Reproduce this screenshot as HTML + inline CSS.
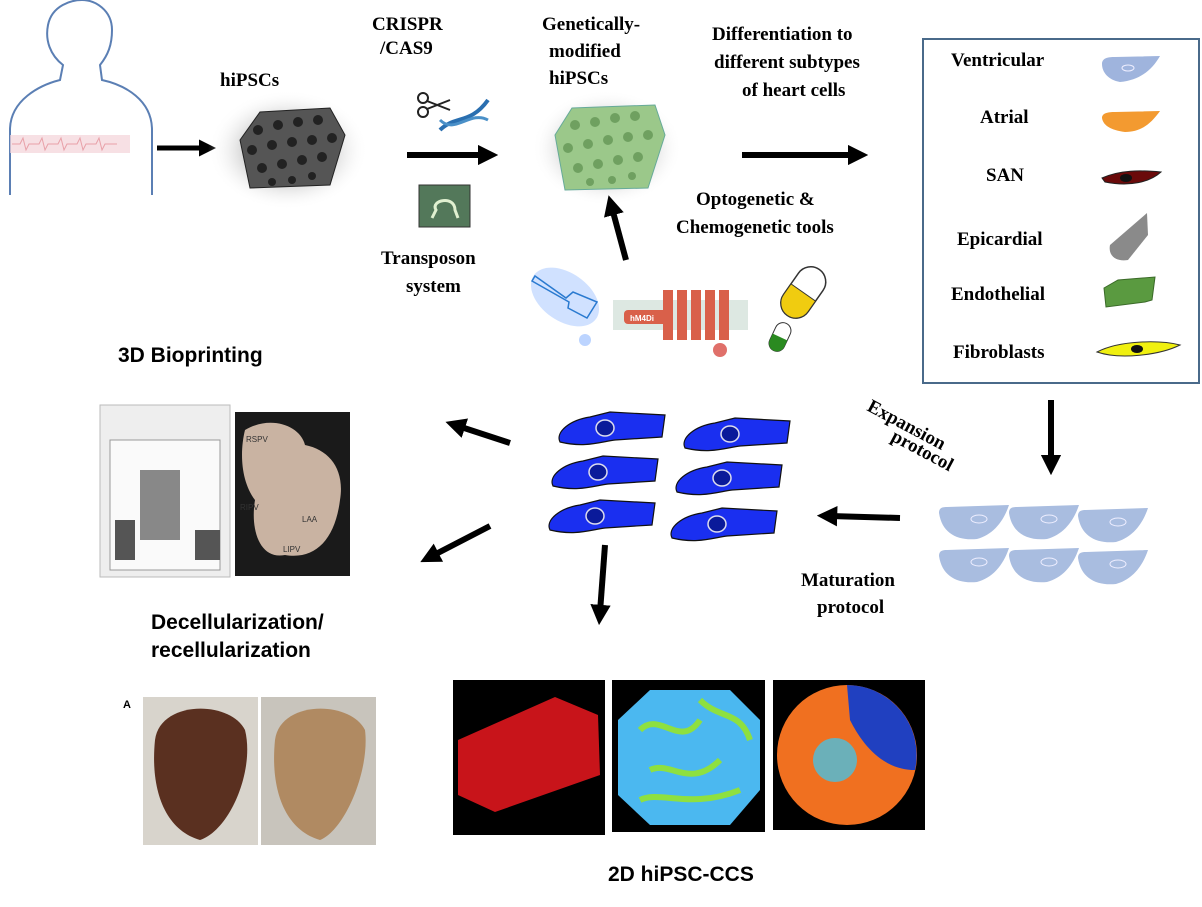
<!DOCTYPE html>
<html><head><meta charset="utf-8"><style>
body{margin:0;background:#fff}
svg{display:block}
.t{font-family:"Liberation Serif",serif;font-weight:bold;font-size:19px;fill:#000}
.s{font-family:"Liberation Sans",sans-serif;font-weight:bold;font-size:21px;fill:#000}
</style></head><body>
<svg width="1202" height="907" viewBox="0 0 1202 907" xmlns="http://www.w3.org/2000/svg">
<defs>
<marker id="ah" markerWidth="3.4" markerHeight="3.4" refX="1.2" refY="1.7" orient="auto" markerUnits="strokeWidth"><path d="M0,0 L3.4,1.7 L0,3.4 Z" fill="#000"/></marker>
<g id="bc"><path d="M5,30 C0,20 15,8 35,5 L55,0 L110,3 L107,25 L60,28 C45,30 30,36 5,30 Z" fill="#1a2ff0" stroke="#111" stroke-width="1.2"/><ellipse cx="50" cy="16" rx="9" ry="8" fill="#0a1a9a" stroke="#dde" stroke-width="1.5"/></g>
<g id="lc"><path d="M2,8 C2,3 5,2 10,2 L72,0 C66,18 55,30 40,34 C20,36 5,28 2,8 Z" fill="#a9bde0"/><ellipse cx="42" cy="14" rx="8" ry="4" fill="none" stroke="#eef" stroke-width="1"/></g>
<radialGradient id="glow"><stop offset="0.5" stop-color="#ccc"/><stop offset="1" stop-color="#fff" stop-opacity="0"/></radialGradient>
</defs>
<!-- human -->
<path d="M10,195 L10,130 C10,100 40,85 60,80 L63,65 C50,55 45,40 48,25 C52,5 72,0 82,0 C95,0 112,10 112,30 C112,45 108,55 100,65 L102,80 C125,85 152,100 152,130 L152,195" fill="none" stroke="#5b7fb4" stroke-width="2"/>
<rect x="10" y="135" width="120" height="18" fill="#f3d3d8" opacity="0.7"/>
<path d="M12,144 l8,0 l3,-6 l3,12 l3,-6 l10,0 l3,-6 l3,12 l3,-6 l10,0 l3,-6 l3,12 l3,-6 l10,0 l3,-6 l3,12 l3,-6 l10,0 l3,-6 l3,12 l3,-6 l12,0" fill="none" stroke="#e8a0a8" stroke-width="1"/>
<line x1="157" y1="148" x2="205" y2="148" stroke="#000" stroke-width="5" marker-end="url(#ah)"/>
<text class="t" x="220" y="86">hiPSCs</text>
<ellipse cx="288" cy="150" rx="80" ry="60" fill="url(#glow)"/>
<path d="M240,140 L260,112 L330,108 L345,135 L330,185 L250,188 Z" fill="#555" stroke="#222"/>
<g fill="#222">
<circle cx="258" cy="130" r="5"/><circle cx="278" cy="125" r="5"/><circle cx="298" cy="122" r="5"/><circle cx="318" cy="120" r="5"/>
<circle cx="252" cy="150" r="5"/><circle cx="272" cy="145" r="5"/><circle cx="292" cy="142" r="5"/><circle cx="312" cy="140" r="5"/><circle cx="332" cy="138" r="5"/>
<circle cx="262" cy="168" r="5"/><circle cx="282" cy="164" r="5"/><circle cx="302" cy="160" r="5"/><circle cx="322" cy="157" r="5"/>
<circle cx="272" cy="182" r="4"/><circle cx="292" cy="180" r="4"/><circle cx="312" cy="176" r="4"/></g>
<text class="t" x="372" y="30">CRISPR</text><text class="t" x="380" y="54">/CAS9</text>
<g stroke="#222" stroke-width="2" fill="none"><circle cx="423" cy="98" r="5"/><circle cx="423" cy="112" r="5"/><line x1="427" y1="101" x2="450" y2="110"/><line x1="427" y1="109" x2="450" y2="100"/></g>
<path d="M440,130 C455,115 470,125 488,100" stroke="#2a6fb0" stroke-width="4" fill="none"/>
<path d="M440,120 C455,135 470,110 488,120" stroke="#4a90c8" stroke-width="3" fill="none"/>
<line x1="407" y1="155" x2="485" y2="155" stroke="#000" stroke-width="6" marker-end="url(#ah)"/>
<rect x="419" y="185" width="51" height="42" fill="#53785a" stroke="#333"/>
<path d="M432,218 L436,210 C430,200 455,195 455,210 L458,218" fill="none" stroke="#e0f0d0" stroke-width="3"/>
<text class="t" x="381" y="264">Transposon</text><text class="t" x="406" y="292">system</text>
<text class="t" x="542" y="30">Genetically-</text><text class="t" x="549" y="57">modified</text><text class="t" x="549" y="84">hiPSCs</text>
<ellipse cx="607" cy="148" rx="75" ry="58" fill="url(#glow)"/>
<path d="M555,135 L572,108 L655,105 L665,135 L648,188 L565,190 Z" fill="#9bc88a" stroke="#6a9"/>
<g fill="#6fa060">
<circle cx="575" cy="125" r="5"/><circle cx="595" cy="122" r="5"/><circle cx="615" cy="118" r="5"/><circle cx="635" cy="116" r="5"/>
<circle cx="568" cy="148" r="5"/><circle cx="588" cy="144" r="5"/><circle cx="608" cy="140" r="5"/><circle cx="628" cy="137" r="5"/><circle cx="648" cy="135" r="5"/>
<circle cx="578" cy="168" r="5"/><circle cx="598" cy="164" r="5"/><circle cx="618" cy="160" r="5"/><circle cx="638" cy="157" r="5"/>
<circle cx="590" cy="182" r="4"/><circle cx="612" cy="180" r="4"/><circle cx="632" cy="176" r="4"/></g>
<line x1="626" y1="260" x2="612" y2="208" stroke="#000" stroke-width="6" marker-end="url(#ah)"/>
<text class="t" x="712" y="40">Differentiation to</text><text class="t" x="714" y="68">different subtypes</text><text class="t" x="742" y="96">of heart cells</text>
<line x1="742" y1="155" x2="855" y2="155" stroke="#000" stroke-width="6" marker-end="url(#ah)"/>
<text class="t" x="696" y="205">Optogenetic &amp;</text><text class="t" x="676" y="233">Chemogenetic tools</text>
<!-- opto -->
<ellipse cx="565" cy="297" rx="38" ry="24" fill="#bcd4ff" opacity="0.7" transform="rotate(35 565 297)"/>
<path d="M535,276 L566,298 L573,292 L597,302 L587,318 L568,308 L569,302 L532,281 Z" fill="none" stroke="#2a7ad0" stroke-width="1.5"/>
<circle cx="585" cy="340" r="6" fill="#bcd4ff"/>
<rect x="613" y="300" width="135" height="30" fill="#dde8e2"/>
<rect x="624" y="310" width="45" height="14" rx="4" fill="#d9604a"/>
<text x="630" y="321" font-family="Liberation Sans" font-size="8" fill="#fff" font-weight="bold">hM4Di</text>
<g fill="#d9604a"><rect x="663" y="290" width="10" height="50"/><rect x="677" y="290" width="10" height="50"/><rect x="691" y="290" width="10" height="50"/><rect x="705" y="290" width="10" height="50"/><rect x="719" y="290" width="10" height="50"/></g>
<circle cx="720" cy="350" r="7" fill="#e0706a"/>
<g transform="rotate(35 805 290)"><rect x="790" y="265" width="30" height="56" rx="15" fill="#fff" stroke="#333" stroke-width="1.5"/><path d="M790,293 L820,293 L820,306 A15,15 0 0 1 790,306 Z" fill="#f0cc10" stroke="#333"/></g>
<g transform="rotate(25 780 337)"><rect x="772" y="322" width="16" height="30" rx="8" fill="#fff" stroke="#333"/><path d="M772,337 L788,337 L788,344 A8,8 0 0 1 772,344 Z" fill="#2a8a20"/></g>
<!-- box -->
<rect x="923" y="39" width="276" height="344" fill="#fff" stroke="#4a6a8a" stroke-width="2"/>
<text class="t" x="951" y="66">Ventricular</text>
<text class="t" x="980" y="123">Atrial</text>
<text class="t" x="986" y="181">SAN</text>
<text class="t" x="957" y="245">Epicardial</text>
<text class="t" x="951" y="300">Endothelial</text>
<text class="t" x="953" y="358">Fibroblasts</text>
<path d="M1102,64 C1102,58 1108,57 1115,57 L1160,56 C1152,70 1140,80 1120,82 C1108,80 1102,72 1102,64 Z" fill="#9fb4dd"/>
<ellipse cx="1128" cy="68" rx="6" ry="3" fill="none" stroke="#eef"/>
<path d="M1102,118 C1102,113 1108,112 1115,112 L1160,111 C1150,125 1140,132 1125,132 C1110,130 1103,125 1102,118 Z" fill="#f39a30"/>
<path d="M1102,178 C1120,170 1140,170 1161,172 C1150,182 1130,187 1105,182 Z" fill="#6a0a0a" stroke="#222"/>
<ellipse cx="1126" cy="178" rx="6" ry="4" fill="#111"/>
<path d="M1147,213 L1148,235 L1128,260 C1115,262 1108,255 1110,245 Z" fill="#8a8a8a"/>
<path d="M1104,288 L1118,280 L1155,277 L1152,300 L1145,302 L1106,307 Z" fill="#5a9a40" stroke="#3a6a28"/>
<path d="M1097,352 C1120,340 1160,340 1180,345 C1160,355 1120,360 1097,352 Z" fill="#f0f010" stroke="#333"/>
<ellipse cx="1137" cy="349" rx="6" ry="4" fill="#111"/>
<text class="s" x="118" y="362">3D Bioprinting</text>
<!-- printer -->
<rect x="100" y="405" width="130" height="172" fill="#eee" stroke="#bbb"/>
<rect x="110" y="440" width="110" height="130" fill="#fafafa" stroke="#999"/>
<rect x="140" y="470" width="40" height="70" fill="#888"/>
<rect x="115" y="520" width="20" height="40" fill="#555"/>
<rect x="195" y="530" width="25" height="30" fill="#555"/>
<rect x="235" y="412" width="115" height="164" fill="#1a1a1a"/>
<path d="M245,430 C270,415 300,425 305,445 C330,450 345,470 340,500 C335,540 315,560 285,555 C260,560 250,530 255,500 C240,480 240,450 245,430 Z" fill="#c9b3a2"/>
<g font-family="Liberation Sans" font-size="8" fill="#333"><text x="246" y="442">RSPV</text><text x="240" y="510">RIPV</text><text x="302" y="522">LAA</text><text x="283" y="552">LIPV</text></g>
<line x1="510" y1="443" x2="458" y2="426" stroke="#000" stroke-width="6" marker-end="url(#ah)"/>
<line x1="490" y1="526" x2="432" y2="556" stroke="#000" stroke-width="6" marker-end="url(#ah)"/>
<use href="#bc" x="555" y="412"/><use href="#bc" x="680" y="418"/><use href="#bc" x="548" y="456"/><use href="#bc" x="672" y="462"/><use href="#bc" x="545" y="500"/><use href="#bc" x="667" y="508"/>
<line x1="605" y1="545" x2="600" y2="612" stroke="#000" stroke-width="6" marker-end="url(#ah)"/>
<text class="t" transform="translate(866,410) rotate(28)">Expansion</text>
<text class="t" transform="translate(890,440) rotate(28)">protocol</text>
<line x1="1051" y1="400" x2="1051" y2="462" stroke="#000" stroke-width="6" marker-end="url(#ah)"/>
<use href="#lc" x="937" y="505"/><use href="#lc" x="1007" y="505"/><use href="#lc" x="1076" y="508"/>
<use href="#lc" x="937" y="548"/><use href="#lc" x="1007" y="548"/><use href="#lc" x="1076" y="550"/>
<line x1="900" y1="518" x2="830" y2="516" stroke="#000" stroke-width="6" marker-end="url(#ah)"/>
<text class="t" x="801" y="586">Maturation</text><text class="t" x="817" y="613">protocol</text>
<text class="s" x="151" y="629">Decellularization/</text><text class="s" x="151" y="657">recellularization</text>
<!-- heart photos -->
<text x="123" y="708" font-family="Liberation Sans" font-size="11" font-weight="bold">A</text>
<rect x="143" y="697" width="115" height="148" fill="#d8d4cc"/>
<path d="M155,740 C160,700 230,700 245,730 C255,770 230,830 200,840 C165,830 150,790 155,740 Z" fill="#5a3020"/>
<rect x="261" y="697" width="115" height="148" fill="#c8c4bc"/>
<path d="M275,740 C280,700 350,700 365,730 C370,770 345,830 320,840 C285,830 270,790 275,740 Z" fill="#b08a62"/>
<rect x="453" y="680" width="152" height="155" fill="#000"/>
<path d="M458,740 L555,697 L598,715 L600,775 L495,812 L458,795 Z" fill="#c8141a"/>
<rect x="612" y="680" width="153" height="152" fill="#000"/>
<polygon points="650,690 730,690 760,720 760,790 730,825 650,825 618,795 618,720" fill="#4bb8f0"/>
<g fill="none" stroke="#8ee040" stroke-width="6"><path d="M640,730 C660,710 680,750 700,720"/><path d="M650,770 C670,760 690,790 720,760"/><path d="M640,800 C660,790 690,810 740,790"/><path d="M700,700 C720,720 740,710 750,740"/></g>
<rect x="773" y="680" width="152" height="150" fill="#000"/>
<circle cx="847" cy="755" r="70" fill="#f07020"/>
<path d="M847,685 A70,70 0 0 1 915,770 C880,770 860,740 850,720 Z" fill="#2040c0"/>
<circle cx="835" cy="760" r="22" fill="#4ac0e0" opacity="0.8"/>
<text class="s" x="608" y="881">2D hiPSC-CCS</text>
</svg>
</body></html>
